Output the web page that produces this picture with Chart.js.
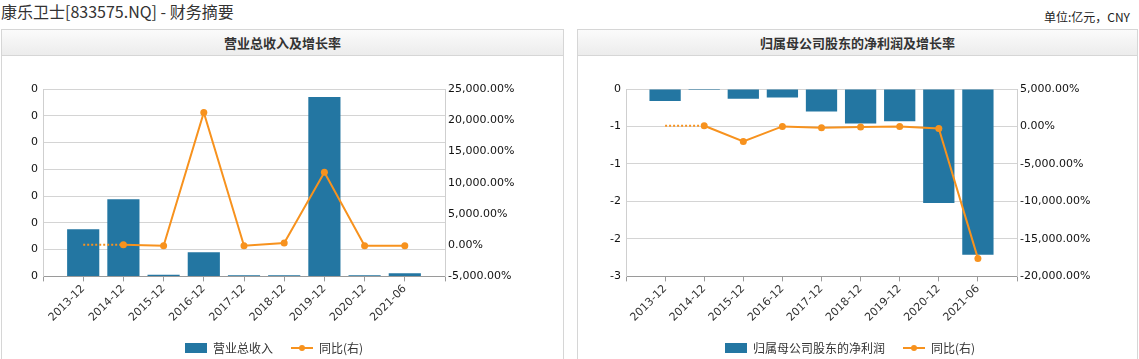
<!DOCTYPE html>
<html>
<head>
<meta charset="utf-8">
<script src="https://cdn.jsdelivr.net/npm/chart.js@4.4.0/dist/chart.umd.min.js"></script>
<style>
  html, body { margin: 0; padding: 0; background: #fff; width: 1139px; height: 359px; overflow: hidden; }
  body { position: relative; font-family: "Noto Sans CJK SC", "Noto Sans", sans-serif; color: #333; }
  #title { position: absolute; left: 1px; top: 0px; font-size: 16px; line-height: 22px; color: #333; white-space: nowrap; }
  #unit { position: absolute; right: 9px; top: 7px; font-size: 12px; line-height: 20px; color: #222; white-space: nowrap; }
  .panel { position: absolute; top: 29px; height: 340px; border: 1px solid #d6d6d6; box-sizing: border-box; background: #fff; }
  .phead { position: absolute; left: 0; right: 0; top: 0; height: 25px; border-bottom: 1px solid #d6d6d6;
           background: linear-gradient(#fbfbfb, #ececec); text-align: center; font-size: 13px; font-weight: bold; line-height: 25px; color: #333; }
  #p1 { left: 1px; width: 563px; }
  #p2 { left: 577px; width: 561px; }
  .cv { position: absolute; top: 55px; }
</style>
</head>
<body>
<div id="title">康乐卫士[833575.NQ] - 财务摘要</div>
<div id="unit">单位:亿元，CNY</div>
<div class="panel" id="p1"><div class="phead">营业总收入及增长率</div></div>
<div class="panel" id="p2"><div class="phead">归属母公司股东的净利润及增长率</div></div>
<div class="cv" id="w1" style="left:0px;width:563px;height:309px;"><canvas id="c1"></canvas></div>
<div class="cv" id="w2" style="left:577px;width:560px;height:309px;"><canvas id="c2"></canvas></div>
<script>
// ---- data (亿元 / %) ----
const categories = ['2013-12', '2014-12', '2015-12', '2016-12', '2017-12', '2018-12', '2019-12', '2020-12', '2021-06'];
const revenue = [0.088, 0.144, 0.003, 0.045, 0.002, 0.002, 0.335, 0.002, 0.006];
const revenueYoY = [null, 64, -98, 21250, -99.6, 350, 11680, -99, -97];
const netProfit = [-0.16, -0.012, -0.13, -0.115, -0.30, -0.46, -0.43, -1.52, -2.21];
const netProfitYoY = [null, 94, -2000, 11, -160, -53, 7, -253, -17600];
const revenueAxisTicks = { min: 0, max: 0.35, step: 0.05 };
const revenuePctTicks = { min: -5000, max: 25000, step: 5000 };
const profitAxisTicks = { min: -2.5, max: 0, step: 0.5 };
const profitPctTicks = { min: -20000, max: 5000, step: 5000 };

const BLUE = '#2376a2';
const ORANGE = '#f7921e';
const GRID = '#d4d4d4';
const TICKFONT = { family: 'DejaVu Sans', size: 11 };

function pts(arr) { return arr.map((v, i) => ({ x: i + 1, y: v })); }
function firstKnownCarry(arr) {
  // dotted connector from the first period (no YoY) to the first reported YoY
  const k = arr.findIndex(v => v !== null);
  return [{ x: 1, y: arr[k] }, { x: k + 1, y: arr[k] }];
}
function pctFmt(v) {
  return Number(v).toLocaleString('en-US', { minimumFractionDigits: 2, maximumFractionDigits: 2 }) + '%';
}
function mkIcon(kind) {
  const c = document.createElement('canvas');
  c.width = 22; c.height = 10;
  const g = c.getContext('2d');
  if (kind === 'bar') { g.fillStyle = BLUE; g.fillRect(0, 0, 22, 10); }
  else {
    g.strokeStyle = ORANGE; g.lineWidth = 2;
    g.beginPath(); g.moveTo(0, 5); g.lineTo(22, 5); g.stroke();
    g.fillStyle = ORANGE; g.beginPath(); g.arc(11, 5, 3, 0, Math.PI * 2); g.fill();
  }
  return c;
}
const barIcon = mkIcon('bar'), lineIcon = mkIcon('line');

function makeChart(id, barLabel, barData, yoy, lt, rt, leftW, rightW, padR) {
  new Chart(document.getElementById(id), {
    type: 'bar',
    data: {
      datasets: [
        { type: 'bar', label: barLabel, data: pts(barData), backgroundColor: BLUE, borderWidth: 0,
          barPercentage: 0.8, categoryPercentage: 1.0, yAxisID: 'y', order: 3 },
        { type: 'line', label: '同比(右)', data: pts(yoy), borderColor: ORANGE, backgroundColor: ORANGE,
          borderWidth: 2, pointRadius: 3.5, pointBackgroundColor: ORANGE, pointBorderWidth: 0,
          tension: 0, spanGaps: false, yAxisID: 'y1', order: 1 },
        { type: 'line', label: '_dotted', data: firstKnownCarry(yoy), borderColor: ORANGE,
          borderWidth: 2, borderDash: [2, 2], pointRadius: 0, tension: 0, yAxisID: 'y1', order: 2 }
      ]
    },
    options: {
      responsive: true, maintainAspectRatio: false, animation: false,
      layout: { padding: { top: 34, left: 0, right: padR, bottom: 0 } },
      plugins: {
        tooltip: { enabled: false },
        legend: {
          position: 'bottom',
          labels: {
            usePointStyle: true, pointStyleWidth: 22, boxHeight: 10, padding: 18,
            font: { family: 'Noto Sans CJK SC', size: 12 }, color: '#333',
            filter: (item) => item.text !== '_dotted',
            sort: (a, b) => a.datasetIndex - b.datasetIndex,
            generateLabels: (chart) => {
              const items = Chart.defaults.plugins.legend.labels.generateLabels(chart);
              items.forEach(it => { it.pointStyle = it.datasetIndex === 0 ? barIcon : lineIcon; });
              return items;
            }
          }
        }
      },
      scales: {
        x: {
          type: 'linear', min: 0, max: categories.length + 1, offset: false,
          afterFit: (s) => { s.height = 47.6; },
          border: { display: true, color: '#9a9a9a', width: 1 },
          grid: { display: true, drawOnChartArea: false, drawTicks: true, tickLength: 5, color: '#9a9a9a', offset: false },
          ticks: {
            stepSize: 1, autoSkip: false, minRotation: 45, maxRotation: 45, padding: 1,
            font: TICKFONT, color: '#333',
            callback: (v) => categories[v - 1] || ''
          }
        },
        y: {
          position: 'left', min: lt.min, max: lt.max,
          afterFit: (s) => { s.width = leftW; },
          border: { display: true, color: '#cfcfcf' },
          grid: { color: GRID, drawTicks: false },
          ticks: { stepSize: lt.step, padding: 5, font: TICKFONT, color: '#111',
                   callback: (v) => Number(v).toFixed(0) }
        },
        y1: {
          position: 'right', min: rt.min, max: rt.max,
          afterFit: (s) => { s.width = rightW; },
          border: { display: true, color: '#cfcfcf' },
          grid: { drawOnChartArea: false, drawTicks: false },
          ticks: { stepSize: rt.step, padding: 3, font: TICKFONT, color: '#111', callback: pctFmt }
        }
      }
    }
  });
}

makeChart('c1', '营业总收入', revenue, revenueYoY, revenueAxisTicks, revenuePctTicks, 43, 103, 15);
makeChart('c2', '归属母公司股东的净利润', netProfit, netProfitYoY, profitAxisTicks, profitPctTicks, 49, 106, 14);
</script>
</body>
</html>
